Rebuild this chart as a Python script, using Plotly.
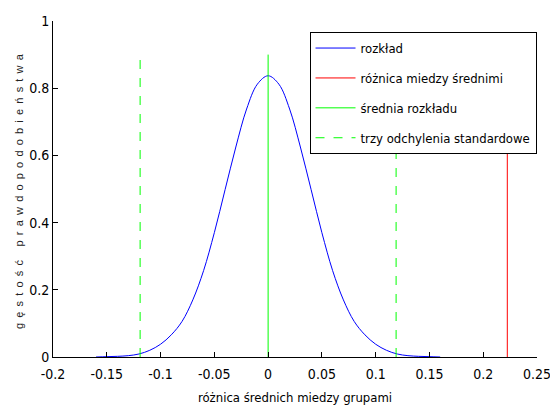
import plotly.graph_objects as go

# distribution curve
x_vals = [-0.16, -0.15, -0.14, -0.13, -0.12, -0.11, -0.10, -0.09, -0.08, -0.07, -0.06,
          -0.05, -0.04, -0.03, -0.02, -0.01, 0.0, 0.01, 0.02, 0.03, 0.04, 0.05,
          0.06, 0.07, 0.08, 0.09, 0.10, 0.11, 0.12, 0.13, 0.14, 0.15, 0.16]
y_vals = [0.0, 0.001, 0.002, 0.004, 0.009, 0.020, 0.038, 0.066, 0.106, 0.170, 0.257,
          0.370, 0.498, 0.625, 0.738, 0.812, 0.837, 0.812, 0.738, 0.625, 0.498, 0.370,
          0.257, 0.170, 0.106, 0.066, 0.038, 0.020, 0.009, 0.004, 0.002, 0.001, 0.0]

mean_diff = 0.2224
dist_mean = 0.0
three_sd = [-0.119, 0.119]
line_top = 0.9

x_ticks = [-0.2, -0.15, -0.1, -0.05, 0, 0.05, 0.1, 0.15, 0.2, 0.25]
x_tick_text = ["-0.2", "-0.15", "-0.1", "-0.05", "0", "0.05", "0.1", "0.15", "0.2", "0.25"]
y_ticks = [0, 0.2, 0.4, 0.6, 0.8, 1]
y_tick_text = ["0", "0.2", "0.4", "0.6", "0.8", "1"]

FONT = "Liberation Sans Narrow, Arial Narrow, DejaVu Sans Condensed, sans-serif"

fig = go.Figure()
fig.add_trace(go.Scatter(x=x_vals, y=y_vals, mode="lines", name="rozkład", legendgroup="a",
                         line=dict(color="#0000ff", width=1, shape="spline", smoothing=1.0)))
fig.add_trace(go.Scatter(x=[mean_diff, mean_diff], y=[0, line_top], mode="lines", legendgroup="b",
                         name="różnica miedzy średnimi", line=dict(color="#ff0000", width=1)))
fig.add_trace(go.Scatter(x=[dist_mean, dist_mean], y=[0, line_top], mode="lines", legendgroup="c",
                         name="średnia rozkładu", line=dict(color="#00ff00", width=1)))
fig.add_trace(go.Scatter(x=[three_sd[0], three_sd[0], None, three_sd[1], three_sd[1]],
                         y=[0, line_top, None, 0, line_top], mode="lines", legendgroup="d",
                         name="trzy odchylenia standardowe",
                         line=dict(color="#00ff00", width=1, dash="dash")))

fig.update_layout(
    width=550, height=412,
    margin=dict(l=53, r=13, t=21, b=55),
    paper_bgcolor="white", plot_bgcolor="white",
    font=dict(family=FONT, size=13, color="black"),
    showlegend=True,
    legend=dict(x=0.53, y=0.967, xanchor="left", yanchor="top",
                bgcolor="white", bordercolor="black", borderwidth=1,
                font=dict(family=FONT, size=13), tracegroupgap=10,
                traceorder="grouped", itemwidth=40),
    xaxis=dict(range=[-0.2, 0.25], tickvals=x_ticks, ticktext=x_tick_text,
               ticks="inside", ticklen=5, tickcolor="black",
               showline=True, linecolor="black", linewidth=1,
               showgrid=False, zeroline=False, mirror=False, automargin=False,
               ticklabelstandoff=4, ticklabeloverflow="allow",
               tickfont=dict(family=FONT, size=14),
               title=dict(text="różnica średnich miedzy grupami",
                          font=dict(family=FONT, size=13), standoff=12)),
    yaxis=dict(range=[0, 1], tickvals=y_ticks, ticktext=y_tick_text,
               ticks="inside", ticklen=5, tickcolor="black",
               showline=True, linecolor="black", linewidth=1,
               showgrid=False, zeroline=False, mirror=False, automargin=False,
               ticklabeloverflow="allow",
               tickfont=dict(family=FONT, size=14),
               title=dict(text='<span style="letter-spacing:5.2px">gęstość prawdopodobieństwa</span>',
                          font=dict(family="Liberation Sans, Arial, sans-serif", size=11,
                                    color="#222222"), standoff=3)),
)

fig.write_html("out.html")
